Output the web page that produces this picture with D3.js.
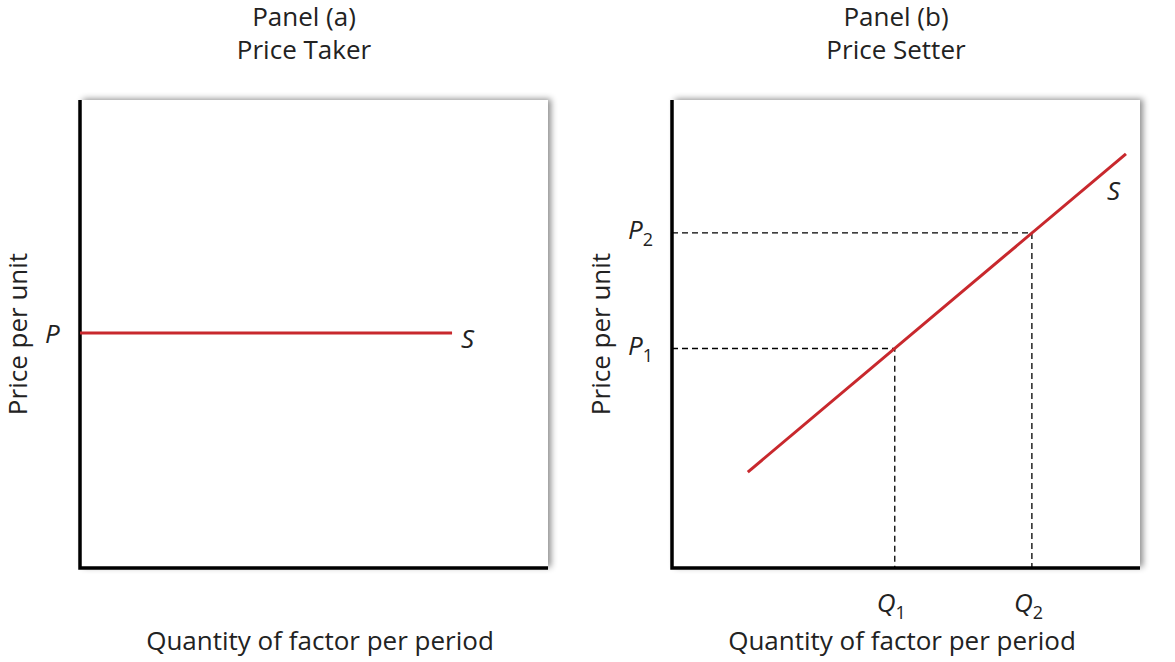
<!DOCTYPE html>
<html><head><meta charset="utf-8">
<script src="https://cdn.jsdelivr.net/npm/d3@7"></script>
<style>body{margin:0;background:#fff}</style>
</head><body>
<svg id="c" width="1175" height="662"></svg>
<script>
const titles = [["Panel (a)","Price Taker"],["Panel (b)","Price Setter"]];
const xTitle = "Quantity of factor per period";
const yTitle = "Price per unit";
const priceA = 5.02, lineAEnd = 7.95;
const supplyB = [[1.62,2.05],[9.70,8.85]];
const qB = [4.76,7.69];
const pB = [4.69,7.16];
const qLabels = ["1","2"];

const svg = d3.select("#c");
const defs = svg.append("defs");
const f = defs.append("filter").attr("id","sh").attr("x","-5%").attr("y","-5%").attr("width","115%").attr("height","115%");
f.append("feDropShadow").attr("dx",3).attr("dy",-1).attr("stdDeviation",3).attr("flood-color","#000").attr("flood-opacity",0.45);
const font = "'Open Sans', Lato, sans-serif";
const red = "#c8282d";
const lefts = [80,672], plotTop = 100, W = 468, H = 468;

lefts.forEach((L,i)=>{
  const g = svg.append("g");
  const x = d3.scaleLinear().domain([0,10]).range([L,L+W]);
  const y = d3.scaleLinear().domain([0,10]).range([plotTop+H,plotTop]);
  g.append("rect").attr("x",L).attr("y",plotTop).attr("width",W).attr("height",H).attr("fill","#fff").attr("filter","url(#sh)");
  g.append("path").attr("d",`M${x(0)},${y(10)}V${y(0)}H${x(10)}`).attr("fill","none").attr("stroke","#000").attr("stroke-width",3.5);
  titles[i].forEach((t,k)=>g.append("text").attr("x",x(5)-10).attr("y",26+k*33).attr("text-anchor","middle")
    .attr("font-family",font).attr("font-size",26).attr("fill","#222").text(t));
  g.append("text").attr("transform",`translate(${i?603:20},${y(5)}) rotate(-90)`)
    .attr("text-anchor","middle").attr("dominant-baseline","middle")
    .attr("font-family",font).attr("font-size",26).attr("fill","#222").text(yTitle);
  g.append("text").attr("x",L+W/2-(i?4:-6)).attr("y",650).attr("text-anchor","middle")
    .attr("font-family",font).attr("font-size",26).attr("fill","#222").text(xTitle);
  if(i===0){
    g.append("line").attr("x1",x(0)).attr("x2",x(lineAEnd)).attr("y1",y(priceA)).attr("y2",y(priceA)).attr("stroke",red).attr("stroke-width",3);
    g.append("text").attr("x",x(0)-35).attr("y",y(priceA)+10).attr("font-family",font).attr("font-style","italic").attr("font-size",26).attr("fill","#222").text("P");
    g.append("text").attr("x",x(lineAEnd)+9).attr("y",y(priceA)+15).attr("font-family",font).attr("font-style","italic").attr("font-size",26).attr("fill","#222").text("S");
  } else {
    qB.forEach((q,k)=>{
      g.append("path").attr("d",`M${x(0)},${y(pB[k])}H${x(q)}V${y(0)}`).attr("fill","none").attr("stroke","#000").attr("stroke-width",1.3).attr("stroke-dasharray","6,4");
      const tq = g.append("text").attr("x",x(q)-18).attr("y",612).attr("font-family",font).attr("font-size",26).attr("fill","#222");
      tq.append("tspan").attr("font-style","italic").text("Q");
      tq.append("tspan").attr("font-size",18).attr("dy",7).text(qLabels[k]);
      const tp = g.append("text").attr("x",x(0)-44).attr("y",y(pB[k])+6).attr("font-family",font).attr("font-size",26).attr("fill","#222");
      tp.append("tspan").attr("font-style","italic").text("P");
      tp.append("tspan").attr("font-size",18).attr("dy",7).text(qLabels[k]);
    });
    g.append("line").attr("x1",x(supplyB[0][0])).attr("y1",y(supplyB[0][1])).attr("x2",x(supplyB[1][0])).attr("y2",y(supplyB[1][1])).attr("stroke",red).attr("stroke-width",3);
    g.append("text").attr("x",1107).attr("y",200).attr("font-family",font).attr("font-style","italic").attr("font-size",26).attr("fill","#222").text("S");
  }
});
</script>
</body></html>
